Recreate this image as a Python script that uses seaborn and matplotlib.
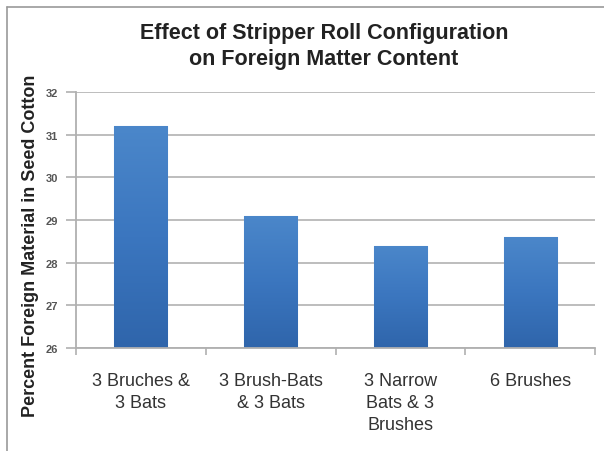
import matplotlib
matplotlib.use("Agg")
import matplotlib.pyplot as plt
import seaborn as sns
import pandas as pd
import numpy as np
from matplotlib.lines import Line2D
from matplotlib.colors import LinearSegmentedColormap

categories = ["3 Bruches &\n3 Bats", "3 Brush-Bats\n& 3 Bats", "3 Narrow\nBats & 3\nBrushes", "6 Brushes"]
values = [31.2, 29.1, 28.4, 28.6]
yticks = [26, 27, 28, 29, 30, 31, 32]

sns.set_theme(style="white")
plt.rcParams['font.family'] = ['Liberation Sans', 'DejaVu Sans']

df = pd.DataFrame({"cat": categories, "val": values})

W, H = 604, 452
fig = plt.figure(figsize=(W/100, H/100), dpi=100)
x0, x1, ytop, ybot = 76, 595, 93, 349
ax = fig.add_axes([x0/W, 1-ybot/H, (x1-x0)/W, (ybot-ytop)/H])

sns.barplot(data=df, x="cat", y="val", color="#3a75c0", width=0.41, ax=ax, saturation=1)

ax.set_ylim(26, 32)
ax.set_xlim(-0.5, 3.5)

# gradient fill on bars
cmap = LinearSegmentedColormap.from_list("barg", ["#2f65ab", "#3b76bf", "#4b87ca"])
grad = np.linspace(0, 1, 256).reshape(-1, 1)
for p in list(ax.patches):
    bx, by = p.get_x(), p.get_y()
    bw, bh = p.get_width(), p.get_height()
    p.set_edgecolor("#9dbde6")
    p.set_linewidth(0.8)
    im = ax.imshow(grad, cmap=cmap, aspect="auto", origin="lower",
                   extent=[bx, bx + bw, 26, by + bh], zorder=p.get_zorder() + 0.1)
    im.set_clip_path(p)
ax.set_xlim(-0.5, 3.5)
ax.set_ylim(26, 32)

ax.set_yticks(yticks)
ax.set_yticklabels([str(t) for t in yticks], fontsize=8, fontweight="bold", color="#555555")
ax.yaxis.grid(True, color="#b8b8b8", linewidth=1.3)
ax.set_axisbelow(True)
for s in ["top", "right"]:
    ax.spines[s].set_visible(False)
for s in ["left", "bottom"]:
    ax.spines[s].set_color("#b0b0b0")
    ax.spines[s].set_linewidth(1.3)

ax.tick_params(axis="y", left=True, length=7, width=1.2, color="#b0b0b0", pad=6)
ax.set_xticks(range(len(categories)))
ax.set_xticklabels(categories, fontsize=13, color="#333333", linespacing=1.4)
ax.tick_params(axis="x", bottom=False, pad=11)
ax.set_xticks([-0.5, 0.5, 1.5, 2.5, 3.5], minor=True)
ax.tick_params(axis="x", which="minor", bottom=True, length=5, width=1.2, color="#b0b0b0")

ax.set_xlabel("")
ax.set_ylabel("")
fig.text(31/W, 1-246/H, "Percent Foreign Material in Seed Cotton", rotation=90,
         ha="center", va="center", fontsize=13, fontweight="bold", color="#222222")

fig.text(324/W, 1-34/H, "Effect of Stripper Roll Configuration", ha="center", va="center",
         fontsize=15.5, fontweight="bold", color="#222222")
fig.text(324/W, 1-60/H, "on Foreign Matter Content", ha="center", va="center",
         fontsize=15.5, fontweight="bold", color="#222222")

# outer frame
fig.add_artist(Line2D([7/W, 7/W], [0, 1-8/H], transform=fig.transFigure, color="#9a9a9a", linewidth=1.2))
fig.add_artist(Line2D([7/W, 1], [1-8/H, 1-8/H], transform=fig.transFigure, color="#9a9a9a", linewidth=1.2))

fig.savefig("out.png", dpi=100)
